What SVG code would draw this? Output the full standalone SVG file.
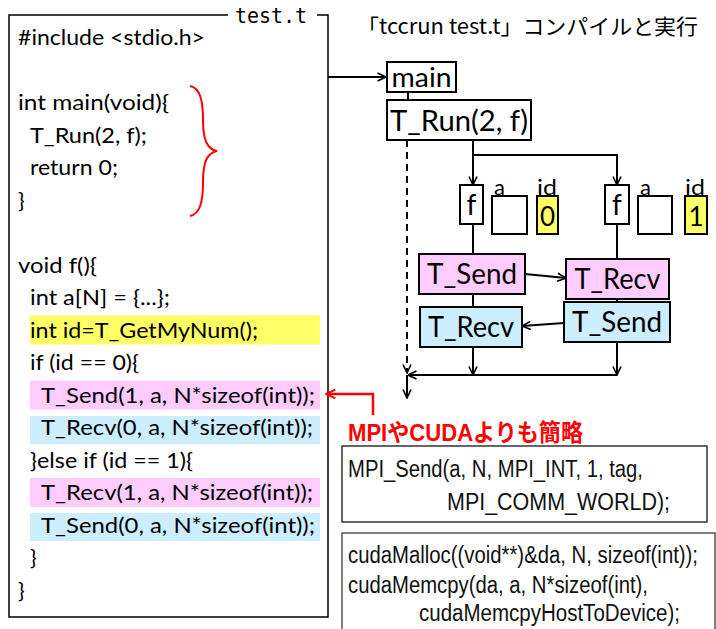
<svg xmlns="http://www.w3.org/2000/svg" width="716" height="629" viewBox="0 0 716 629">
  <style>
    .code { font-family: Lato, "Liberation Sans", sans-serif; font-size: 22px; fill: #000; }
    .node { font-family: Lato, "Liberation Sans", sans-serif; fill: #000; }
    .narrow { font-family: "Liberation Sans", Arial, sans-serif; font-size: 23px; fill: #111; }
    .box { stroke: #000; stroke-width: 2; }
    .conn { stroke: #000; stroke-width: 2; fill: none; }
  </style>
  <defs>
    <marker id="arr" viewBox="0 0 10 10" refX="9.5" refY="5" markerWidth="10" markerHeight="10" markerUnits="userSpaceOnUse" orient="auto">
      <path d="M1,1 L9.5,5 L1,9" fill="none" stroke="#000" stroke-width="1.6"/>
    </marker>
    <marker id="arrRed" viewBox="0 0 10 10" refX="9.5" refY="5" markerWidth="11" markerHeight="11" markerUnits="userSpaceOnUse" orient="auto">
      <path d="M1,1 L9.5,5 L1,9" fill="none" stroke="#f00" stroke-width="1.8"/>
    </marker>
  </defs>

  <rect width="716" height="629" fill="#fff"/>

  <!-- source file panel -->
  <g id="source-file">
    <path d="M228,15 H9 V617 H328 V15 H317" fill="none" stroke="#000" stroke-width="1.5"/>
    <text x="235" y="23" font-family="'DejaVu Sans Mono', 'Liberation Mono', monospace" font-size="21" textLength="72" lengthAdjust="spacingAndGlyphs">test.t</text>

    <!-- highlighted lines -->
    <rect x="30" y="315.5" width="290" height="29" fill="#ffff66"/>
    <rect x="30" y="380.5" width="290" height="29" fill="#ffccff"/>
    <rect x="30" y="416" width="290" height="28" fill="#cceeff"/>
    <rect x="30" y="478" width="290" height="29" fill="#ffccff"/>
    <rect x="30" y="513" width="290" height="28" fill="#cceeff"/>

    <text class="code" x="18" y="45" textLength="187" lengthAdjust="spacingAndGlyphs">#include &lt;stdio.h&gt;</text>
    <text class="code" x="18" y="110" textLength="151" lengthAdjust="spacingAndGlyphs">int main(void){</text>
    <text class="code" x="30" y="142.5" textLength="117" lengthAdjust="spacingAndGlyphs">T_Run(2, f);</text>
    <text class="code" x="30" y="175" textLength="88" lengthAdjust="spacingAndGlyphs">return 0;</text>
    <text class="code" x="18" y="207.5">}</text>
    <text class="code" x="18" y="272.5" textLength="79" lengthAdjust="spacingAndGlyphs">void f(){</text>
    <text class="code" x="30" y="305" textLength="140" lengthAdjust="spacingAndGlyphs">int a[N] = {...};</text>
    <text class="code" x="30" y="337.5" textLength="228" lengthAdjust="spacingAndGlyphs">int id=T_GetMyNum();</text>
    <text class="code" x="30" y="370" textLength="109" lengthAdjust="spacingAndGlyphs">if (id == 0){</text>
    <text class="code" x="41" y="402.5" textLength="274" lengthAdjust="spacingAndGlyphs">T_Send(1, a, N*sizeof(int));</text>
    <text class="code" x="41" y="435" textLength="272" lengthAdjust="spacingAndGlyphs">T_Recv(0, a, N*sizeof(int));</text>
    <text class="code" x="30" y="467.5" textLength="163" lengthAdjust="spacingAndGlyphs">}else if (id == 1){</text>
    <text class="code" x="41" y="500" textLength="272" lengthAdjust="spacingAndGlyphs">T_Recv(1, a, N*sizeof(int));</text>
    <text class="code" x="41" y="532.5" textLength="274" lengthAdjust="spacingAndGlyphs">T_Send(0, a, N*sizeof(int));</text>
    <text class="code" x="30" y="565">}</text>
    <text class="code" x="18" y="597.5">}</text>

    <!-- brace around main() -->
    <path d="M190,86 C200,88 203,100 203,120 C203,140 207,149 217,151 C207,153 203,162 203,182 C203,202 200,214 190,216" fill="none" stroke="#f00" stroke-width="2"/>
  </g>

  <!-- heading -->
  <text x="357" y="34" font-family="'Noto Sans CJK JP', 'Liberation Sans', sans-serif" font-size="21" textLength="341" lengthAdjust="spacingAndGlyphs">「tccrun test.t」コンパイルと実行</text>

  <!-- connectors -->
  <g id="connectors">
    <line class="conn" x1="328" y1="77" x2="386" y2="77" marker-end="url(#arr)"/>
    <line class="conn" x1="408" y1="92" x2="408" y2="100"/>
    <line class="conn" x1="407" y1="140" x2="407" y2="373" stroke-dasharray="7,5" marker-end="url(#arr)"/>
    <line class="conn" x1="473" y1="140" x2="473" y2="185" marker-end="url(#arr)"/>
    <path class="conn" d="M473,155 H617 V185" marker-end="url(#arr)"/>
    <line class="conn" x1="473" y1="224" x2="473" y2="254"/>
    <line class="conn" x1="473" y1="294" x2="473" y2="307"/>
    <line class="conn" x1="617" y1="224" x2="617" y2="259"/>
    <line class="conn" x1="617" y1="299" x2="617" y2="302"/>
    <line class="conn" x1="525" y1="274" x2="566" y2="278" marker-end="url(#arr)"/>
    <line class="conn" x1="564" y1="323" x2="522" y2="326" marker-end="url(#arr)"/>
    <line class="conn" x1="473" y1="347" x2="473" y2="375" marker-end="url(#arr)"/>
    <line class="conn" x1="617" y1="342" x2="617" y2="375" marker-end="url(#arr)"/>
    <line class="conn" x1="617" y1="375" x2="408" y2="375" marker-end="url(#arr)"/>
    <line class="conn" x1="407" y1="375" x2="407" y2="398" marker-end="url(#arr)"/>
    <path d="M373,415 V394 H326" fill="none" stroke="#f00" stroke-width="2.5" marker-end="url(#arrRed)"/>
  </g>

  <!-- nodes -->
  <g id="main">
    <rect class="box" x="387" y="62" width="69" height="30" fill="#fff"/>
    <text class="node" x="421.5" y="87" font-size="27" text-anchor="middle" textLength="60" lengthAdjust="spacingAndGlyphs">main</text>
  </g>
  <g id="t-run">
    <rect class="box" x="387" y="100" width="144" height="40" fill="#fff"/>
    <text class="node" x="459" y="131" font-size="29" text-anchor="middle" textLength="138" lengthAdjust="spacingAndGlyphs">T_Run(2, f)</text>
  </g>

  <g id="f0">
    <rect class="box" x="460" y="185" width="23" height="39" fill="#fff"/>
    <text class="node" x="471.5" y="215" font-size="28" text-anchor="middle">f</text>
  </g>
  <g id="a0">
    <text class="node" x="494" y="195" font-size="22">a</text>
    <rect class="box" x="492" y="196" width="35" height="38" fill="#fff"/>
  </g>
  <g id="id0">
    <text class="node" x="537" y="195" font-size="22" textLength="20" lengthAdjust="spacingAndGlyphs">id</text>
    <rect class="box" x="537" y="196" width="21" height="38" fill="#ffff66"/>
    <text class="node" x="547.5" y="226" font-size="26" text-anchor="middle">0</text>
  </g>

  <g id="f1">
    <rect class="box" x="605" y="185" width="24" height="39" fill="#fff"/>
    <text class="node" x="617" y="215" font-size="28" text-anchor="middle">f</text>
  </g>
  <g id="a1">
    <text class="node" x="640" y="195" font-size="22">a</text>
    <rect class="box" x="638" y="196" width="34" height="38" fill="#fff"/>
  </g>
  <g id="id1">
    <text class="node" x="685" y="195" font-size="22" textLength="20" lengthAdjust="spacingAndGlyphs">id</text>
    <rect class="box" x="685" y="196" width="22" height="38" fill="#ffff66"/>
    <text class="node" x="696" y="226" font-size="26" text-anchor="middle">1</text>
  </g>

  <g id="send0">
    <rect class="box" x="419" y="254" width="106" height="40" fill="#ffccff"/>
    <text class="node" x="472" y="284" font-size="28" text-anchor="middle" textLength="90" lengthAdjust="spacingAndGlyphs">T_Send</text>
  </g>
  <g id="recv0">
    <rect class="box" x="420" y="307" width="102" height="40" fill="#cceeff"/>
    <text class="node" x="471" y="337" font-size="28" text-anchor="middle" textLength="86" lengthAdjust="spacingAndGlyphs">T_Recv</text>
  </g>
  <g id="recv1">
    <rect class="box" x="566" y="259" width="103" height="40" fill="#ffccff"/>
    <text class="node" x="617.5" y="289" font-size="28" text-anchor="middle" textLength="86" lengthAdjust="spacingAndGlyphs">T_Recv</text>
  </g>
  <g id="send1">
    <rect class="box" x="564" y="302" width="106" height="40" fill="#cceeff"/>
    <text class="node" x="617" y="332" font-size="28" text-anchor="middle" textLength="90" lengthAdjust="spacingAndGlyphs">T_Send</text>
  </g>

  <!-- comparison -->
  <text x="348" y="441" font-family="'Liberation Sans', 'Noto Sans CJK JP', sans-serif" font-size="24" font-weight="bold" fill="#f00" textLength="235" lengthAdjust="spacingAndGlyphs">MPIやCUDAよりも簡略</text>

  <g id="mpi-example">
    <rect x="342" y="446" width="365" height="76" fill="#fff" stroke="#333" stroke-width="1.5"/>
    <text class="narrow" x="348" y="477" textLength="295" lengthAdjust="spacingAndGlyphs">MPI_Send(a, N, MPI_INT, 1, tag,</text>
    <text class="narrow" x="447" y="510" textLength="223" lengthAdjust="spacingAndGlyphs">MPI_COMM_WORLD);</text>
  </g>

  <g id="cuda-example">
    <path d="M342,629 V533 H715 V629" fill="#fff" stroke="#555" stroke-width="1.5"/>
    <text class="narrow" x="348" y="563" textLength="350" lengthAdjust="spacingAndGlyphs">cudaMalloc((void**)&amp;da, N, sizeof(int));</text>
    <text class="narrow" x="348" y="593" textLength="300" lengthAdjust="spacingAndGlyphs">cudaMemcpy(da, a, N*sizeof(int),</text>
    <text class="narrow" x="419" y="621" textLength="261" lengthAdjust="spacingAndGlyphs">cudaMemcpyHostToDevice);</text>
  </g>
</svg>
